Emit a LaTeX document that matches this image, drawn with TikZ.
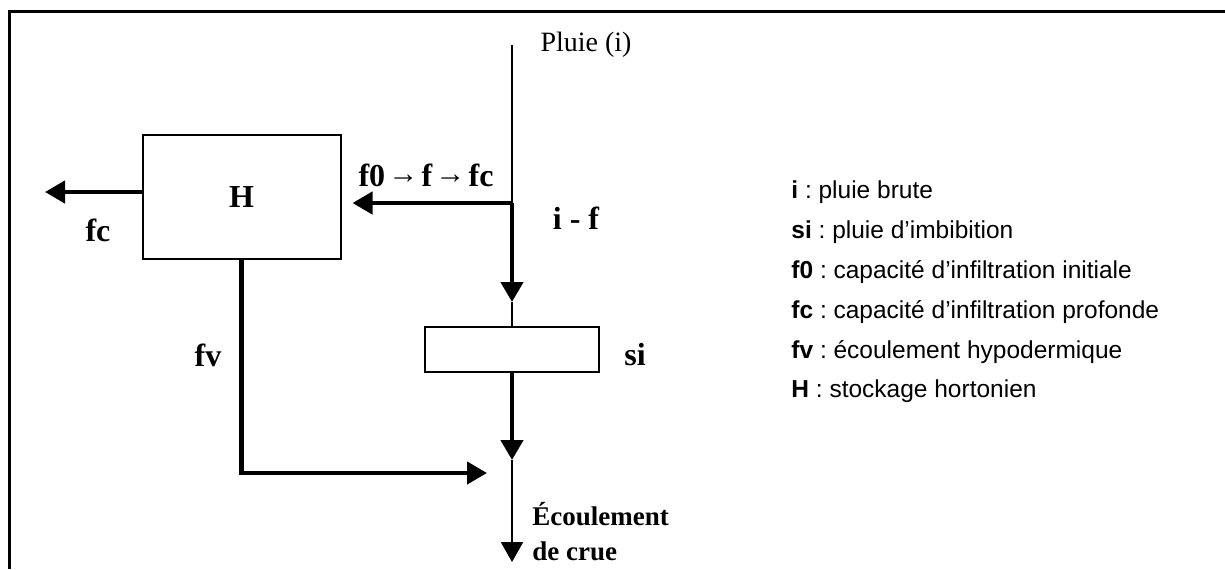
\documentclass[tikz,border=0pt]{standalone}
\usepackage{fontspec}
\setmainfont{Liberation Serif}
\newfontfamily\legfont{Liberation Sans}
\usetikzlibrary{arrows.meta}
\frenchspacing
\newcommand{\flowto}{\hspace{0.1em}\raisebox{0.08em}{\mdseries\fontsize{15}{17}\selectfont →}\hspace{0.1em}}

\begin{document}
\begin{tikzpicture}[
    x=0.5pt,
    y=-0.5pt,
    store/.style={
        draw,
        line width=1pt,
        inner sep=0pt
    },
    flow/.style={
        line width=2.2pt,
        -{Triangle[length=10pt,width=11pt]}
    },
    thinflow/.style={
        line width=1.2pt,
        -{Triangle[length=10pt,width=11pt]}
    },
    lbl/.style={
        font=\fontsize{16}{19}\selectfont\bfseries,
        inner sep=0pt
    }
]

    \useasboundingbox (0,0) rectangle (1225,569);
    \draw[line width=1.5pt] (1225,11) -- (9,11) -- (9,569);

    \node[store, minimum width=99pt, minimum height=62pt, lbl] (H) at (241.5,197) {H};
    \node[store, minimum width=87pt, minimum height=22.5pt] (si) at (512,349.5) {};

    \coordinate (top) at (512,45);
    \coordinate (split) at (512,203);
    \coordinate (in1) at (512,302);
    \coordinate (in2) at (512,460);
    \coordinate (out) at (512,562);
    \coordinate (fcend) at (45,192);
    \coordinate (fvend) at (487,473);

    \draw[line width=1.2pt] (top) -- (split);
    \draw[flow, shorten >=5.5pt] (split) -- (H.east |- split);
    \draw[flow] (split) -- (in1);
    \draw[line width=1.2pt] (in1) -- (si.north);
    \draw[flow] (si.south) -- (in2);
    \draw[thinflow] (in2) -- (out);
    \draw[flow] (H.west |- fcend) -- (fcend);
    \draw[flow] (H.south) |- (fvend);

    \node[font=\fontsize{14}{17}\selectfont, inner sep=0pt] (pluie) at (586,45) {Pluie (i)};
    \node[lbl] (capa) at (426,175) {f0\flowto f\flowto fc};
    \node[lbl] (ifl) at (576,218) {i - f};
    \node[lbl] (fcl) at (98,230) {fc};
    \node[lbl] (fvl) at (208,355) {fv};
    \node[lbl] (sil) at (635,355) {si};
    \node[font=\fontsize{13.5}{17.5}\selectfont\bfseries, inner sep=0pt, align=left, anchor=west] (crue) at (532,532) {Écoulement\\de crue};

    \node[font=\legfont\fontsize{12.25}{19.9}\selectfont, inner sep=0pt, align=left, anchor=west] (legend) at (791,292) {%
        \textbf{i} : pluie brute\\
        \textbf{si} : pluie d’imbibition\\
        \textbf{f0} : capacité d’infiltration initiale\\
        \textbf{fc} : capacité d’infiltration profonde\\
        \textbf{fv} : écoulement hypodermique\\
        \textbf{H} : stockage hortonien};

\end{tikzpicture}
\end{document}
